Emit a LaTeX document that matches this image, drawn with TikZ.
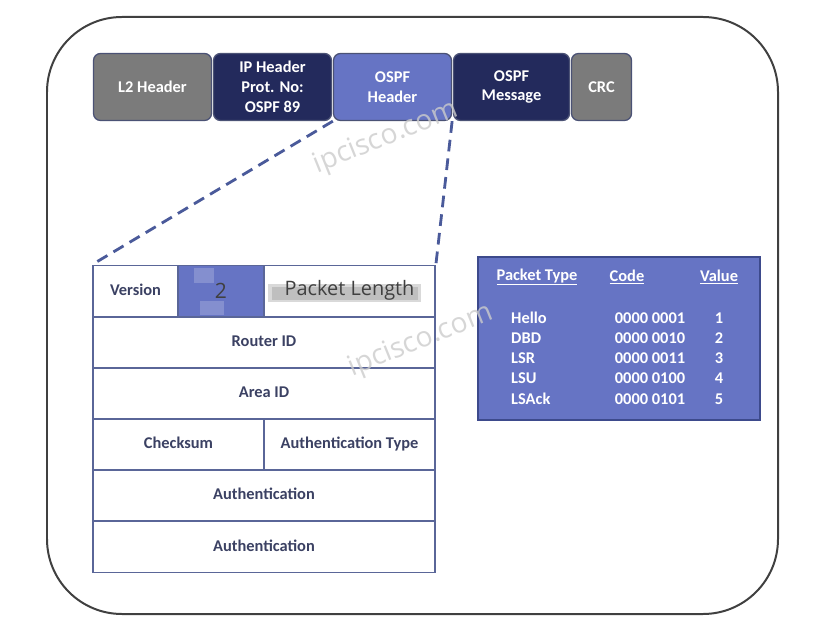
\documentclass[tikz,border=0pt]{standalone}
\usepackage{fontspec}
\setmainfont{Carlito}
\newfontfamily\osans{Open Sans}
\definecolor{gboxfill}{HTML}{7B7B7B}
\definecolor{navyfill}{HTML}{232A5C}
\definecolor{bluefill}{HTML}{6674C4}
\definecolor{boxline}{HTML}{4B5275}
\definecolor{cellline}{HTML}{5A6698}
\definecolor{celltext}{HTML}{3B4163}
\definecolor{dashcol}{HTML}{4A5A9A}
\definecolor{tabline}{HTML}{3D4A8C}
\definecolor{outerline}{HTML}{404040}
\newcommand\pxu{0.03cm}
\begin{document}
\begin{tikzpicture}[x=0.03cm,y=-0.03cm,
  topbox/.style={draw=boxline,line width=1.1pt,rounded corners=6pt,text=white,
    font=\bfseries\fontsize{14}{17}\selectfont,align=center,inner sep=0pt,
    minimum height=67*\pxu},
  cell/.style={draw=cellline,line width=1.5pt,text=celltext,
    font=\bfseries\fontsize{14}{17}\selectfont,inner sep=0pt,
    text height=10pt,text depth=3pt,minimum height=51*\pxu},
  tabtxt/.style={text=white,font=\bfseries\fontsize{14}{17}\selectfont,inner sep=0pt},
  wmark/.style={text=gray!40,opacity=0.8,font=\osans\fontsize{24}{24}\selectfont,rotate=22},
  zoomline/.style={draw=dashcol,line width=2.4pt,dash pattern=on 10pt off 6pt}
]
\useasboundingbox (0,0) rectangle (815,628);
\fill[white] (0,0) rectangle (815,628);
% outer frame
\draw[outerline,line width=1.7pt,rounded corners=75*\pxu] (47,17) rectangle (778,614);

% top packet boxes
\node[topbox,fill=gboxfill,minimum width=118*\pxu] (l2) at (152.5,87) {L2 Header};
\node[topbox,fill=navyfill,minimum width=118*\pxu] (ip) at (272.5,87) {IP Header\\Prot. No:\\OSPF 89};
\node[topbox,fill=bluefill,minimum width=118*\pxu] (oh) at (392.5,87) {OSPF\\Header};
\node[topbox,fill=navyfill,minimum width=116*\pxu] (om) at (511.5,87) {OSPF\\Message};
\node[topbox,fill=gboxfill,minimum width=60*\pxu] (crc) at (601.5,87) {CRC};

% header fields table
\node[cell,minimum width=85*\pxu] (ver) at (135.5,291) {Version};
\node[cell,fill=bluefill,minimum width=86*\pxu] (two) at (221,291) {};
\fill[white,opacity=0.2] (194,268) rectangle (214,283);
\fill[white,opacity=0.2] (200,301) rectangle (224,315);
\node[cell,minimum width=171*\pxu] (plen) at (349.5,291) {};
\fill[gray!30] (268,284) rectangle (421,302);
\fill[gray!50] (272,287) rectangle (418,300);
\node[text=black!75,font=\osans\fontsize{18}{20}\selectfont,inner sep=0pt] (twot) at (221,291) {2};
\node[text=black!75,font=\osans\fontsize{17}{20}\selectfont,inner sep=0pt] (plent) at (349.5,290) {Packet Length};
\node[cell,minimum width=342*\pxu] (rid) at (264,342.5) {Router ID};
\node[cell,minimum width=342*\pxu] (aid) at (264,393.5) {Area ID};
\node[cell,minimum width=171*\pxu] (chk) at (178.5,444.5) {Checksum};
\node[cell,minimum width=171*\pxu] (aut) at (349.5,444.5) {Authentication Type};
\node[cell,minimum width=342*\pxu] (au1) at (264,495.5) {Authentication};
\node[cell,minimum width=342*\pxu] (au2) at (264,547) {Authentication};

% zoom lines
\draw[zoomline] (oh.south west) -- (ver.north west);
\draw[zoomline] (oh.south east) -- (plen.north east);

% packet type table
\node[draw=tabline,fill=bluefill,line width=1.5pt,minimum width=282*\pxu,minimum height=163*\pxu,inner sep=0pt] (ptab) at (619,338.5) {};
\node[tabtxt] (hpt) at (537,277) {\underline{Packet Type}};
\node[tabtxt] (hcd) at (627,277) {\underline{Code}};
\node[tabtxt] (hvl) at (719,277) {\underline{Value}};
\node[tabtxt,anchor=west] (n1) at (511,318) {Hello};
\node[tabtxt,anchor=west] (n2) at (511,338) {DBD};
\node[tabtxt,anchor=west] (n3) at (511,358) {LSR};
\node[tabtxt,anchor=west] (n4) at (511,378) {LSU};
\node[tabtxt,anchor=west] (n5) at (511,399) {LSAck};
\node[tabtxt] (c1) at (650,318) {0000 0001};
\node[tabtxt] (c2) at (650,338) {0000 0010};
\node[tabtxt] (c3) at (650,358) {0000 0011};
\node[tabtxt] (c4) at (650,378) {0000 0100};
\node[tabtxt] (c5) at (650,399) {0000 0101};
\node[tabtxt] (v1) at (719,318) {1};
\node[tabtxt] (v2) at (719,338) {2};
\node[tabtxt] (v3) at (719,358) {3};
\node[tabtxt] (v4) at (719,378) {4};
\node[tabtxt] (v5) at (719,399) {5};

% watermarks
\node[wmark] (wm1) at (386,138) {ipcisco.com};
\node[wmark] (wm2) at (421,341) {ipcisco.com};
\end{tikzpicture}
\end{document}
